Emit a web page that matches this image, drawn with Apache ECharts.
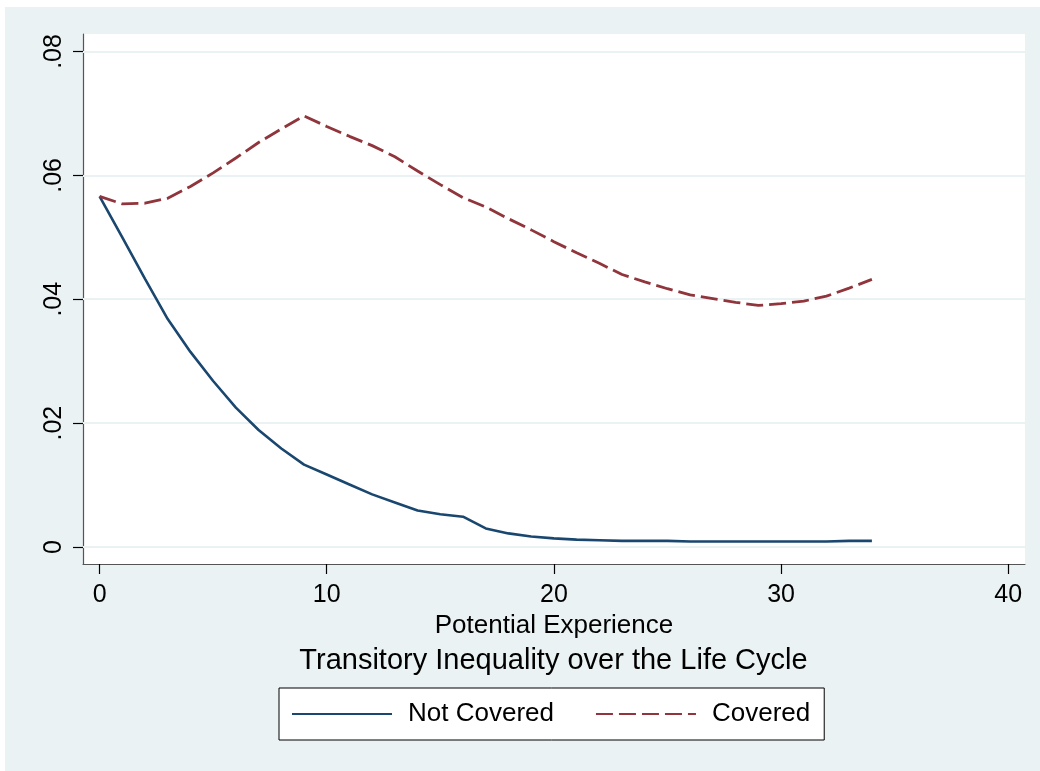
<!doctype html>
<html lang="en">
<head>
	<meta charset="utf-8" />
	<title>Transitory Inequality</title>
	<script src="https://cdn.jsdelivr.net/npm/echarts@6/dist/echarts.min.js"></script>
	<style>
		html, body { margin: 0; padding: 0; background: #fff; }
		#chart { position: absolute; left: 5px; top: 7px; width: 1035px; height: 764px; }
	</style>
</head>
<body>
	<div id="chart"></div>
	<script>
		// potential experience (years)
		const experience = [0, 1, 2, 3, 4, 5, 6, 7, 8, 9, 10, 11, 12, 13, 14, 15, 16, 17, 18, 19, 20,
			21, 22, 23, 24, 25, 26, 27, 28, 29, 30, 31, 32, 33, 34];
		const notCovered = [0.0566, 0.0500, 0.0433, 0.0368, 0.0315, 0.0268, 0.0225, 0.0189, 0.0159, 0.0133, 0.0117,
			0.0101, 0.0085, 0.0072, 0.0059, 0.0053, 0.0049, 0.0030, 0.0022, 0.0017, 0.0014,
			0.0012, 0.0011, 0.0010, 0.0010, 0.0010, 0.0009, 0.0009, 0.0009, 0.0009, 0.0009,
			0.0009, 0.0009, 0.0010, 0.0010];
		const covered = [0.0566, 0.0554, 0.0555, 0.0563, 0.0582, 0.0604, 0.0628, 0.0653, 0.0675, 0.0696, 0.0679,
			0.0663, 0.0648, 0.0630, 0.0607, 0.0585, 0.0564, 0.0549, 0.0530, 0.0512, 0.0493,
			0.0475, 0.0458, 0.0440, 0.0428, 0.0417, 0.0407, 0.0401, 0.0395, 0.0390, 0.0393,
			0.0397, 0.0405, 0.0418, 0.0432];
		const xTicks = [0, 10, 20, 30, 40];
		const yTicks = [0, 0.02, 0.04, 0.06, 0.08];

		const font = '"Liberation Sans", Arial, sans-serif';
		const pair = (xs, ys) => xs.map((x, i) => [x, ys[i]]);

		const chart = echarts.init(document.getElementById('chart'));
		chart.setOption({
			backgroundColor: '#eaf2f3',
			animation: false,
			grid: {
				left: 78, right: 15, top: 27, bottom: 207,
				show: true, backgroundColor: '#ffffff', borderWidth: 0
			},
			xAxis: {
				type: 'value',
				min: -0.73,
				max: 40.74,
				name: 'Potential Experience',
				nameLocation: 'middle',
				nameGap: 44,
				nameTextStyle: { fontFamily: font, fontSize: 26, color: '#000' },
				axisLine: { show: true, onZero: false, lineStyle: { color: '#555', width: 1.2 } },
				axisTick: { show: true, customValues: xTicks, length: 10, lineStyle: { color: '#000', width: 1.2 } },
				axisLabel: { customValues: xTicks, fontFamily: font, fontSize: 25, color: '#000', margin: 19 },
				splitLine: { show: false }
			},
			yAxis: {
				type: 'value',
				min: -0.00274,
				max: 0.08282,
				axisLine: { show: true, onZero: false, lineStyle: { color: '#555', width: 1.2 } },
				axisTick: { show: true, customValues: yTicks, length: 10, lineStyle: { color: '#000', width: 1.2 } },
				axisLabel: {
					customValues: yTicks, rotate: 90, fontFamily: font, fontSize: 25, color: '#000', margin: 16,
					formatter: v => v === 0 ? '0' : v.toFixed(2).replace(/^0/, '')
				},
				splitLine: { show: false }
			},
			legend: {
				left: 274,
				top: 681,
				orient: 'horizontal',
				backgroundColor: '#fff',
				borderColor: '#000',
				borderWidth: 1,
				borderRadius: 0,
				padding: [12, 14, 12, 12],
				itemGap: 41,
				itemWidth: 100,
				itemHeight: 14,
				itemStyle: { opacity: 0 },
				textStyle: { fontFamily: font, fontSize: 26, color: '#000', lineHeight: 28, padding: [0, 0, 0, 11] },
				data: ['Not Covered', 'Covered']
			},
			graphic: [{
				type: 'text',
				x: 548.5,
				y: 654,
				style: {
					text: 'Transitory Inequality over the Life Cycle',
					fontFamily: font, fontSize: 29, fill: '#000',
					align: 'center', verticalAlign: 'middle'
				}
			}],
			series: [
				{
					name: 'Not Covered',
					type: 'line',
					data: pair(experience, notCovered),
					symbol: 'none',
					lineStyle: { color: '#1a476f', width: 2.6 },
					itemStyle: { color: '#1a476f' },
					z: 3,
					markLine: {
						silent: true,
						symbol: 'none',
						label: { show: false },
						lineStyle: { color: '#eaf2f3', width: 2, type: 'solid' },
						data: yTicks.map(v => ({ yAxis: v })),
						z: 1
					}
				},
				{
					name: 'Covered',
					type: 'line',
					data: pair(experience, covered),
					symbol: 'none',
					lineStyle: { color: '#90353b', width: 2.8, type: [17, 6] },
					itemStyle: { color: '#90353b' },
					z: 3
				}
			]
		});
	</script>
</body>
</html>
